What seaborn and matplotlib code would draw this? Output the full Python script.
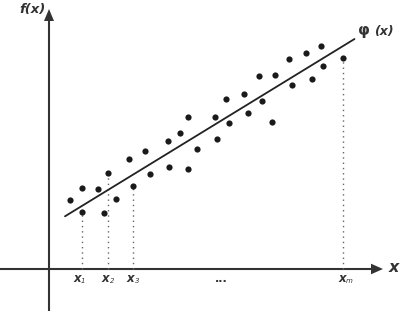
import matplotlib
matplotlib.use("Agg")
import matplotlib.pyplot as plt
import numpy as np
import pandas as pd
import seaborn as sns

# Data (coordinates relative to the axes origin)
point_x = [21, 32.7, 32.7, 48.7, 55, 58.7, 66.7, 80, 84, 96, 101.5, 119.3, 120,
           131.3, 138.7, 138.7, 147.7, 166, 168, 177, 179.7, 195.5, 199, 210,
           213.3, 223, 225.7, 240, 242.7, 256.7, 263, 272, 273.7, 294.3]
point_y = [69, 81.3, 57.5, 80.3, 55.7, 95.7, 69.7, 110, 83.2, 118, 94.7, 128, 102,
           135.7, 151.7, 100.2, 120, 151.7, 129.7, 170.3, 146.3, 175, 156.3, 193,
           167.7, 146.7, 194, 209.7, 184, 216, 190, 222.7, 202.7, 210.7]
fit_x = [16, 305.5]
fit_y = [52.7, 230]
marked_x = [32.7, 58.7, 84, 294.3]
marked_y = [57.5, 95.7, 83.2, 210.7]
tick_subs = ["1", "2", "3", None, "m"]
tick_pos = [31, 59.5, 84.5, 172, 296]

sns.set_style("white")
plt.rcParams["font.family"] = ["DejaVu Sans"]

fig = plt.figure(figsize=(4.06, 3.14), dpi=100)
ax = fig.add_axes([0, 0, 1, 1])

axis_col = "#333333"
# axes with arrows
ax.plot([-49, 324], [0, 0], color=axis_col, lw=1.5, solid_capstyle="butt")
ax.fill([322, 334, 322], [5.3, 0, -5.3], color=axis_col, lw=0)
ax.plot([0, 0], [-42, 250], color=axis_col, lw=1.5, solid_capstyle="butt")
ax.fill([-5, 0, 5], [248, 260, 248], color=axis_col, lw=0)

# dotted drop lines
for mx, my in zip(marked_x, marked_y):
    ax.plot([mx, mx], [0, my], color="#666666", lw=1.0, ls=(0, (1, 2.8)))

df = pd.DataFrame({"x": point_x, "y": point_y})
sns.scatterplot(data=df, x="x", y="y", ax=ax, color="#1a1a1a", s=20,
                linewidth=0, zorder=3)
sns.lineplot(x=fit_x, y=fit_y, ax=ax, color="#222222", lw=1.3, zorder=2)
ax.set_xlim(-49, 357)
ax.set_ylim(-45, 269)
ax.axis("off")

for sub, pos in zip(tick_subs, tick_pos):
    if sub is None:
        ax.text(pos, -10, "...", ha="center", va="center", fontsize=8,
                color="#333333", fontweight="bold")
    else:
        ax.text(pos + 1, -9, "x", ha="right", va="center", fontsize=8.5,
                color="#333333", fontweight="bold", style="italic")
        ax.text(pos + 1, -12, sub, ha="left", va="center", fontsize=5,
                color="#333333", style="italic")

ax.text(-17, 260, "f(x)", ha="center", va="center", fontsize=9.5,
        fontweight="bold", style="italic", color="#333333")
ax.text(345, 1, "x", ha="center", va="center", fontsize=11.5,
        fontweight="bold", style="italic", color="#333333")
ax.text(309, 238, "φ", ha="left", va="center", fontsize=11,
        fontweight="bold", color="#333333")
ax.text(325, 238, "(x)", ha="left", va="center", fontsize=9,
        fontweight="bold", style="italic", color="#333333")

fig.savefig("out.png", dpi=100)
